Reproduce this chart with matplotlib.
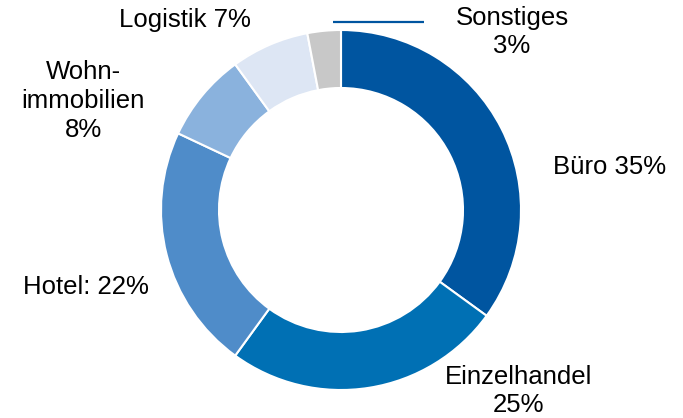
import matplotlib.pyplot as plt

# Daten
labels = ['Büro 35%', 'Einzelhandel\n25%', 'Hotel: 22%', 'Wohn-\nimmobilien\n8%', 'Logistik 7%', 'Sonstiges\n3%']
values = [35, 25, 22, 8, 7, 3]
colors = ['#0055A0', '#0070B4', '#4F8CC9', '#8AB2DD', '#DDE6F4', '#C8C8C8']

plt.rcParams['font.family'] = ['Liberation Sans', 'DejaVu Sans']

fig = plt.figure(figsize=(6.83, 4.18), dpi=100)
ax = fig.add_axes([0, 0, 1, 1])

cx, cy, r = 341, 418 - 210, 180
ax.pie(values, colors=colors, startangle=90, counterclock=False,
       center=(cx, cy), radius=r,
       wedgeprops=dict(width=58, edgecolor='white', linewidth=1.5))
ax.set_xlim(0, 683)
ax.set_ylim(0, 418)
ax.set_aspect('equal')
ax.axis('off')

# Beschriftungen
pos = [(610, 418 - 167), (519, 418 - 391), (86, 418 - 287),
       (83, 418 - 101), (185, 418 - 20), (512, 418 - 32)]
for lab, (x, y) in zip(labels, pos):
    ax.text(x, y, lab, ha='center', va='center', fontsize=18.5,
            linespacing=1.25, color='black')

# Verbindungslinie Sonstiges
ax.plot([333, 424], [418 - 22, 418 - 22], color='#0055A0', lw=1.6,
        solid_capstyle='butt')

fig.savefig('out.png', dpi=100)
